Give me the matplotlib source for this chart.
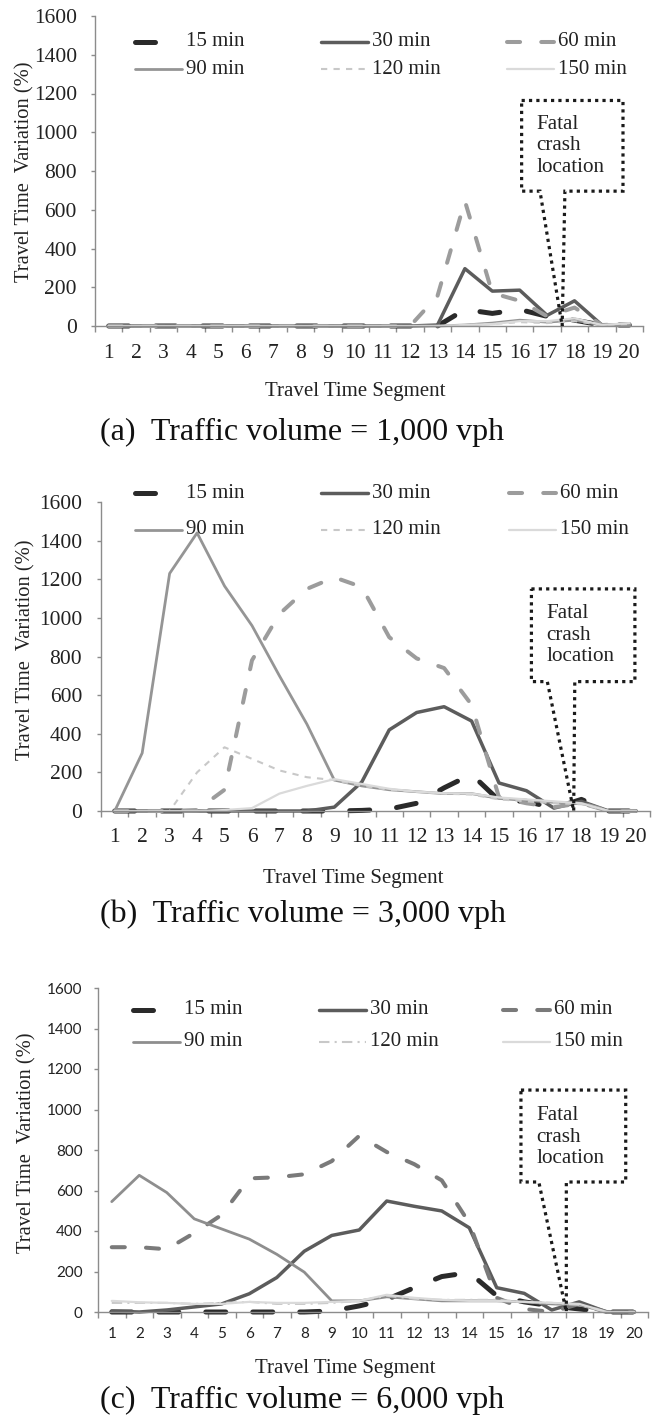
import numpy as np
import matplotlib
matplotlib.use("Agg")
from matplotlib import pyplot as plt
from matplotlib.lines import Line2D
from matplotlib.patches import Polygon

plt.rcParams['font.family'] = ['Liberation Serif', 'DejaVu Serif']

W, H = 656, 1416

segments = list(range(1, 21))
durations = ['15 min', '30 min', '60 min', '90 min', '120 min', '150 min']

# (a) 1,000 vph
a15 = [0, 0, 0, 0, 0, 0, 0, 0, 0, 0, 0, 0, 0, 85, 65, 85, 50, 30, 5, 5]
a30 = [0, 0, 0, 0, 0, 0, 0, 0, 0, 0, 0, 0, 5, 296, 180, 185, 55, 130, 5, 5]
a60 = [0, 0, 0, 0, 0, 0, 0, 0, 0, 0, 0, 0, 155, 645, 170, 130, 50, 95, 5, 10]
a90 = [0, 0, 0, 0, 0, 0, 0, 0, 0, 0, 0, 0, 0, 5, 15, 30, 20, 30, 5, 5]
a120 = [0, 0, 0, 0, 0, 0, 0, 0, 0, 0, 0, 0, 0, 5, 10, 20, 15, 25, 5, 10]
a150 = [0, 0, 0, 0, 0, 0, 0, 0, 0, 0, 0, 0, 0, 5, 10, 25, 25, 40, 5, 15]

# (b) 3,000 vph
b15 = [0, 0, 0, 0, 0, 0, 0, 0, 0, 3, 10, 40, 120, 190, 55, 50, 15, 60, 0, 0]
b30 = [0, 0, 0, 0, 0, 0, 0, 0, 20, 150, 420, 510, 540, 466, 145, 105, 15, 50, 0, 0]
b60 = [0, 0, 0, 5, 110, 780, 1020, 1150, 1210, 1160, 900, 790, 740, 550, 70, 40, 20, 40, 0, 0]
b90 = [0, 300, 1230, 1440, 1165, 960, 700, 450, 160, 130, 110, 100, 90, 90, 65, 55, 45, 40, 0, 0]
b120 = [0, 0, 0, 200, 330, 270, 210, 175, 160, 130, 110, 100, 90, 85, 60, 50, 40, 35, 0, 0]
b150 = [0, 0, 0, 0, 5, 15, 90, 130, 165, 140, 115, 100, 92, 90, 70, 60, 50, 40, 0, 0]

# (c) 6,000 vph
c15 = [0, 0, 0, 0, 0, 0, 0, 0, 5, 30, 62, 120, 175, 195, 80, 50, 30, 15, 0, 0]
c30 = [5, 0, 10, 25, 40, 90, 170, 300, 378, 405, 548, 522, 499, 416, 120, 92, 10, 50, 0, 0]
c60 = [320, 320, 310, 390, 480, 660, 665, 680, 745, 870, 790, 730, 650, 440, 70, 15, 0, 40, 0, 0]
c90 = [545, 675, 590, 460, 410, 360, 285, 197, 55, 55, 75, 65, 55, 55, 55, 50, 40, 35, 0, 0]
c120 = [45, 45, 45, 40, 45, 50, 40, 40, 45, 55, 80, 65, 60, 60, 60, 50, 45, 35, 0, 0]
c150 = [55, 48, 45, 40, 40, 50, 45, 45, 50, 55, 85, 70, 60, 55, 55, 50, 45, 40, 0, 0]

styles_ab = [
    dict(color='#2a2a2a', lw=3.6, dashes=(4, 5.4), dash_capstyle='round'),
    dict(color='#5c5c5c', lw=2.5, solid_capstyle='round'),
    dict(color='#9c9c9c', lw=2.9, dashes=(3.25, 5.25), dash_capstyle='round'),
    dict(color='#959595', lw=2.0, solid_capstyle='round'),
    dict(color='#c8c8c8', lw=1.5, dashes=(3, 3)),
    dict(color='#dadada', lw=1.6, solid_capstyle='round'),
]
styles_c = [dict(s) for s in styles_ab]
styles_c[2]['color'] = '#7a7a7a'
styles_c[3]['color'] = '#8e8e8e'
styles_c[4] = dict(color='#c8c8c8', lw=1.5, dashes=(5, 2.5, 1, 2.5))

panels = [
    dict(series=[a15, a30, a60, a90, a120, a150], styles=styles_ab,
         box=(95, 16, 643, 326), tick_font=None, tick_size=15.5, xpad=13, ypad=10,
         legend_y=(42, 69), label_x=(186, 372, 558),
         callout=(16.07, 19.77, 1164, 696, 16.74, 17.65, 17.55), note_y=930,
         ylab=(25, 172), xlab=(355, 396), title=(100, 440),
         title_text='(a)  Traffic volume = 1,000 vph'),
    dict(series=[b15, b30, b60, b90, b120, b150], styles=styles_ab,
         box=(101, 502, 650, 811), tick_font=None, tick_size=15.5, xpad=12, ypad=10.5,
         legend_y=(493, 530), label_x=(186, 372, 560),
         callout=(16.18, 19.95, 1150, 670, 16.76, 17.76, 17.72), note_y=911,
         ylab=(26, 650), xlab=(353, 883), title=(100, 922),
         title_text='(b)  Traffic volume = 3,000 vph'),
    dict(series=[c15, c30, c60, c90, c120, c150], styles=styles_c,
         box=(98, 988, 648, 1312), tick_font='Lato', tick_size=11, xpad=11, ypad=8,
         legend_y=(1010, 1042), label_x=(184, 370, 554),
         callout=(15.88, 19.69, 1096, 642, 16.53, 17.53, 17.53), note_y=864,
         ylab=(27, 1143), xlab=(345, 1373), title=(100, 1408),
         title_text='(c)  Traffic volume = 6,000 vph'),
]

fig = plt.figure(figsize=(W / 100, H / 100), dpi=100)
axis_grey = '#8c8c8c'

for p in panels:
    left, top, right, bottom = p['box']
    ax = fig.add_axes([left / W, 1 - bottom / H, (right - left) / W, (bottom - top) / H])

    for vals, st in zip(p['series'], p['styles']):
        ax.plot(segments, vals, clip_on=False, solid_joinstyle='round', **st)

    ax.set_xlim(0.5, 20.5)
    ax.set_ylim(0, 1600)
    for side in ['top', 'right']:
        ax.spines[side].set_visible(False)
    for side in ['left', 'bottom']:
        ax.spines[side].set_color(axis_grey)
        ax.spines[side].set_linewidth(1.0)

    ax.set_yticks(range(0, 1601, 200))
    ax.set_xticks(np.arange(0.5, 21, 1), labels=[])
    ax.set_xticks(segments, labels=[str(s) for s in segments], minor=True)
    ax.tick_params(axis='x', which='major', length=4, width=1, color=axis_grey, direction='out')
    ax.tick_params(axis='x', which='minor', length=0, pad=p['xpad'], labelsize=p['tick_size'],
                   labelcolor='#222222')
    ax.tick_params(axis='y', length=3, width=1, color=axis_grey, pad=p['ypad'],
                   labelsize=p['tick_size'], labelcolor='#222222')
    if p['tick_font']:
        for lab in ax.get_xticklabels(minor=True) + ax.get_yticklabels():
            lab.set_family([p['tick_font'], 'DejaVu Sans'])

    # legend, laid out like the spreadsheet original (even column pitch)
    for i, (name, st) in enumerate(zip(durations, p['styles'])):
        row, col = divmod(i, 3)
        y = 1 - p['legend_y'][row] / H
        x1 = p['label_x'][col] - 4
        x0 = x1 - 47
        fig.add_artist(Line2D([x0 / W, x1 / W], [y, y], transform=fig.transFigure,
                              solid_joinstyle='round', **st))
        fig.text(p['label_x'][col] / W, y, name, fontsize=15, ha='left', va='center',
                 color='#222222')

    # fatal crash callout
    bl, br, bt, bb, pl, pr, tip = p['callout']
    shape = Polygon([(bl, bt), (br, bt), (br, bb), (pr, bb), (tip, 0), (pl, bb), (bl, bb)],
                    closed=True, fill=False, edgecolor='#1a1a1a', lw=2.3,
                    linestyle=(0, (1, 1.3)), clip_on=False, zorder=5)
    ax.add_patch(shape)
    ax.text(bl + 0.55, p['note_y'], 'Fatal\ncrash\nlocation', fontsize=15.2,
            ha='left', va='center', linespacing=1.2, zorder=6, color='#222222')

    fig.text(p['ylab'][0] / W, 1 - p['ylab'][1] / H, 'Travel Time  Variation (%)',
             rotation=90, fontsize=14.8, ha='center', va='center', color='#222222')
    fig.text(p['xlab'][0] / W, 1 - p['xlab'][1] / H, 'Travel Time Segment',
             fontsize=15, ha='center', va='baseline', color='#222222')
    fig.text(p['title'][0] / W, 1 - p['title'][1] / H, p['title_text'],
             fontsize=23, ha='left', va='baseline', color='#111111')

fig.savefig('out.png', dpi=100)
